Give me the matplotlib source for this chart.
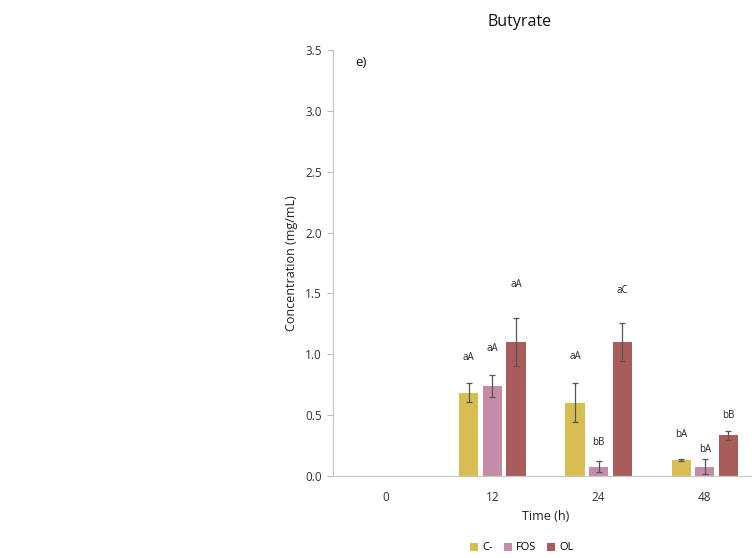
import matplotlib
matplotlib.use("Agg")
import matplotlib.pyplot as plt
import numpy as np
from matplotlib.patches import Patch

plt.rcParams['font.family'] = ['Open Sans', 'DejaVu Sans']

times = ["0", "12", "24", "48"]
series = ["C-", "FOS", "OL"]
c_minus = [0.0, 0.684, 0.60, 0.13]
fos = [0.0, 0.738, 0.078, 0.078]
ol = [0.0, 1.10, 1.10, 0.333]
c_minus_err = [0.0, 0.08, 0.16, 0.01]
fos_err = [0.0, 0.093, 0.043, 0.06]
ol_err = [0.0, 0.20, 0.155, 0.035]
c_minus_labels = ["", "aA", "aA", "bA"]
fos_labels = ["", "aA", "bB", "bA"]
ol_labels = ["", "aA", "aC", "bB"]
c_minus_label_y = [0.0, 0.974, 0.98, 0.34]
fos_label_y = [0.0, 1.05, 0.275, 0.22]
ol_label_y = [0.0, 1.57, 1.52, 0.50]

colors = ["#D8BE52", "#C48CA8", "#A95C5C"]

fig = plt.figure(figsize=(7.52, 5.58), dpi=100)
ax = fig.add_axes([333/752, 1-476/558, 425/752, 426/558])

x = np.arange(len(times))
width = 0.18
step = 0.222
vals = [c_minus, fos, ol]
errs = [c_minus_err, fos_err, ol_err]
labs = [c_minus_labels, fos_labels, ol_labels]
laby = [c_minus_label_y, fos_label_y, ol_label_y]
for i in range(3):
    xs = x + (i - 1) * step
    v = np.array(vals[i])
    e = np.array(errs[i])
    mask = v > 0
    ax.bar(xs[mask], v[mask], width=width, color=colors[i], zorder=2)
    ax.errorbar(xs[mask], v[mask], yerr=e[mask], fmt='none', ecolor='#555555',
                elinewidth=0.9, capsize=2.5, capthick=0.9, zorder=3)
    for j in range(len(times)):
        if labs[i][j]:
            ax.text(xs[j], laby[i][j], labs[i][j], ha='center', va='center',
                    fontsize=7, color='#222222')

ax.set_xlim(-0.5, 3.5)
ax.set_ylim(0, 3.5)
ax.set_yticks(np.arange(0, 3.51, 0.5))
ax.set_yticklabels([f"{t:.1f}" for t in np.arange(0, 3.51, 0.5)], fontsize=8.5, color='#333333')
ax.set_xticks(x)
ax.set_xticklabels(times, fontsize=8.5, color='#333333')
ax.tick_params(axis='x', length=0, pad=11)
ax.tick_params(axis='y', length=4, color='#BBBBBB', width=0.8, pad=4)
for s in ['top', 'right']:
    ax.spines[s].set_visible(False)
ax.spines['left'].set_color('#C8C8C8')
ax.spines['bottom'].set_color('#C8C8C8')
ax.spines['left'].set_linewidth(0.9)
ax.spines['bottom'].set_linewidth(0.9)
ax.set_ylabel("Concentration (mg/mL)", fontsize=9, color='#222222', labelpad=5)
ax.set_xlabel("Time (h)", fontsize=9, color='#222222', labelpad=4)

fig.text(520/752, 1-22/558, "Butyrate", ha='center', va='center', fontsize=11.5, color='#111111')
fig.text(361/752, 1-63/558, "e)", ha='center', va='center', fontsize=9.5, color='#111111')

handles = [Patch(facecolor=c, edgecolor='none') for c in colors]
fig.legend(handles, series, loc='center', bbox_to_anchor=(522/752, 1-548/558), ncol=3,
           frameon=False, fontsize=8, handlelength=0.7, handleheight=0.7,
           handletextpad=0.4, columnspacing=1.0)

fig.savefig("out.png", dpi=100)
